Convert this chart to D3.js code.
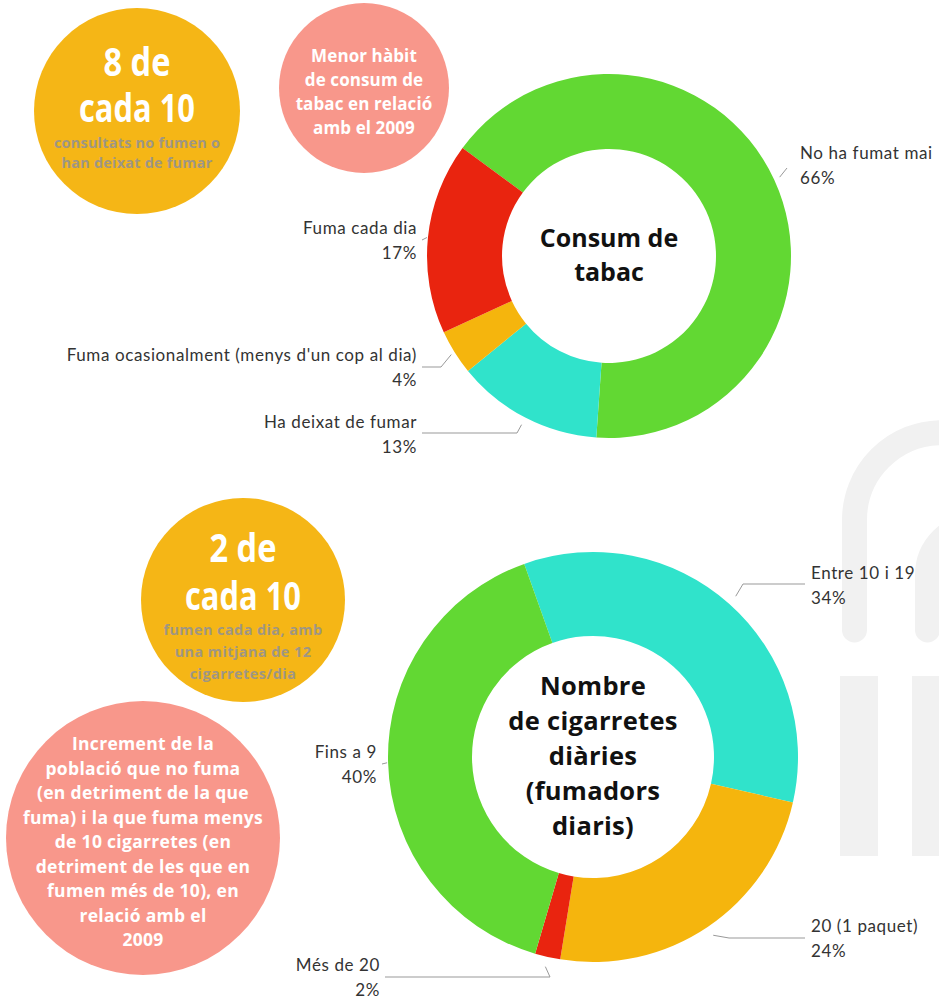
<!DOCTYPE html>
<html>
<head>
<meta charset="utf-8">
<script src="https://cdn.jsdelivr.net/npm/d3@7"></script>
<style>
  html, body { margin: 0; padding: 0; background: #fff; }
  svg { display: block; }
</style>
</head>
<body>
<svg id="chart" width="939" height="998"></svg>
<script>
// ---------- DATA ----------
const tabacCategories = ["No ha fumat mai", "Ha deixat de fumar", "Fuma ocasionalment (menys d'un cop al dia)", "Fuma cada dia"];
const tabacValues = [66, 13, 4, 17];
const tabacTitle = ["Consum de", "tabac"];

const cigCategories = ["Entre 10 i 19", "20 (1 paquet)", "Més de 20", "Fins a 9"];
const cigValues = [34, 24, 2, 40];
const cigTitle = ["Nombre", "de cigarretes", "diàries", "(fumadors", "diaris)"];

const bubble1Big = ["8 de", "cada 10"];
const bubble1Small = ["consultats no fumen o", "han deixat de fumar"];
const bubble2Text = ["Menor hàbit", "de consum de", "tabac en relació", "amb el 2009"];
const bubble3Big = ["2 de", "cada 10"];
const bubble3Small = ["fumen cada dia, amb", "una mitjana de 12", "cigarretes/dia"];
const bubble4Text = ["Increment de la", "població que no fuma", "(en detriment de la que", "fuma) i la que fuma menys", "de 10 cigarretes (en", "detriment de les que en", "fumen més de 10), en", "relació amb el", "2009"];

// ---------- STYLE ----------
const C = { green: "#62d833", teal: "#30e3cb", yellow: "#f5b50d", red: "#e9240f",
            bubbleYellow: "#f5b616", bubblePink: "#f8978b", wm: "#f1f1f1" };
const tabacColors = [C.green, C.teal, C.yellow, C.red];
const cigColors = [C.teal, C.yellow, C.red, C.green];
const labelFont = "Lato, 'Open Sans', sans-serif";
const boldFont = "'Open Sans', 'Noto Sans', sans-serif";

const svg = d3.select("#chart");
svg.append("rect").attr("width", 939).attr("height", 998).attr("fill", "#fff");

// ---------- WATERMARK ----------
const wm = svg.append("g").attr("fill", "none").attr("stroke", C.wm);
wm.append("path").attr("stroke-width", 25).attr("stroke-linecap", "round")
  .attr("d", "M854.5,630 L854.5,520 A87.5,87.5 0 0 1 1029.5,520 L1029.5,630");
wm.append("path").attr("stroke-width", 25).attr("stroke-linecap", "round")
  .attr("d", "M927.5,630 L927.5,575 A50,50 0 0 1 1027.5,575 L1027.5,630");
svg.append("rect").attr("x", 840).attr("y", 676).attr("width", 38).attr("height", 180).attr("fill", C.wm);
svg.append("rect").attr("x", 912).attr("y", 676).attr("width", 38).attr("height", 180).attr("fill", C.wm);

// ---------- BUBBLES ----------
function bubble(cx, cy, r, fill) {
  svg.append("circle").attr("cx", cx).attr("cy", cy).attr("r", r).attr("fill", fill);
}
function lines(arr, cx, y0, dy, opts) {
  const t = svg.append("text").attr("text-anchor", "middle")
    .attr("font-family", opts.family).attr("font-weight", opts.weight || 700)
    .attr("font-size", opts.size).attr("fill", opts.fill)
    .attr("letter-spacing", opts.spacing || 0);
  arr.forEach((s, i) => {
    const ts = t.append("tspan").attr("x", cx).attr("y", y0 + i * dy).text(s);
    if (opts.lengths) ts.attr("textLength", opts.lengths[i]).attr("lengthAdjust", "spacingAndGlyphs");
  });
}

bubble(137, 111, 103, C.bubbleYellow);
lines(bubble1Big, 137, 76, 46, { family: boldFont, size: 40, fill: "#fff", lengths: [67, 116] });
lines(bubble1Small, 137, 148, 20, { family: boldFont, size: 14.5, fill: "#9f9683", spacing: 0.2 });

bubble(364, 88, 85, C.bubblePink);
lines(bubble2Text, 364, 62, 24, { family: boldFont, size: 17, fill: "#fff", spacing: 0.1 });

bubble(243, 600, 102, C.bubbleYellow);
lines(bubble3Big, 243, 562, 48, { family: boldFont, size: 40, fill: "#fff", lengths: [67, 116] });
lines(bubble3Small, 243, 635, 22, { family: boldFont, size: 14.5, fill: "#9f9683", spacing: 0.4 });

bubble(143, 838, 137, C.bubblePink);
lines(bubble4Text, 143, 750, 24.5, { family: boldFont, size: 17.5, fill: "#fff", spacing: 0.3 });

// ---------- DONUTS ----------
function donut(cfg) {
  const pie = d3.pie().sort(null).value(d => d)
    .startAngle(cfg.start * Math.PI / 180)
    .endAngle(cfg.start * Math.PI / 180 + 2 * Math.PI);
  const arcs = pie(cfg.values);
  const arc = d3.arc().innerRadius(cfg.inner).outerRadius(cfg.outer);
  const g = svg.append("g").attr("transform", `translate(${cfg.cx},${cfg.cy})`);
  g.selectAll("path.slice").data(arcs).join("path").attr("class", "slice")
    .attr("d", arc).attr("fill", (d, i) => cfg.colors[i]);

  // title
  lines(cfg.title, cfg.cx, cfg.titleY, cfg.titleDy, { family: boldFont, size: cfg.titleSize, fill: "#111", spacing: cfg.titleSpacing || 0 });

  // labels + connectors
  arcs.forEach((a, i) => {
    const L = cfg.labels[i];
    const edge = d3.arc().innerRadius(cfg.outer + L.gap).outerRadius(cfg.outer + L.gap).centroid(a);
    const p0 = [cfg.cx + edge[0], cfg.cy + edge[1]];
    const pts = [p0].concat(L.path);
    svg.append("path").attr("d", d3.line()(pts)).attr("fill", "none")
      .attr("stroke", "#999").attr("stroke-width", 1);
    const t = svg.append("text").attr("font-family", labelFont).attr("font-size", 17)
      .attr("letter-spacing", 0.6).attr("fill", "#333").attr("text-anchor", L.anchor);
    t.append("tspan").attr("x", L.x).attr("y", L.y).text(cfg.categories[i]);
    t.append("tspan").attr("x", L.x).attr("y", L.y + 25).text(cfg.values[i] + "%");
  });
}

donut({
  cx: 609, cy: 256, outer: 182, inner: 107, start: -53.6,
  values: tabacValues, categories: tabacCategories, colors: tabacColors,
  title: tabacTitle, titleY: 247, titleDy: 34, titleSize: 25,
  labels: [
    { x: 800, y: 159, anchor: "start", gap: 6, path: [[787, 168]] },
    { x: 417, y: 428, anchor: "end", gap: 8, path: [[517, 433], [422, 433]] },
    { x: 417, y: 361, anchor: "end", gap: 4, path: [[441, 367], [422, 367]] },
    { x: 417, y: 234, anchor: "end", gap: 1, path: [[422, 240]] }
  ]
});

donut({
  cx: 593, cy: 757, outer: 205, inner: 121, start: -19.6,
  values: cigValues, categories: cigCategories, colors: cigColors,
  title: cigTitle, titleY: 695, titleDy: 35, titleSize: 25.5, titleSpacing: 0.3,
  labels: [
    { x: 811, y: 579, anchor: "start", gap: 10, path: [[743, 584], [805, 584]] },
    { x: 811, y: 932, anchor: "start", gap: 10, path: [[729, 938], [805, 938]] },
    { x: 380, y: 971, anchor: "end", gap: 10, path: [[550, 977], [385, 977]] },
    { x: 377, y: 758, anchor: "end", gap: 1, path: [[382, 764]] }
  ]
});
</script>
</body>
</html>
